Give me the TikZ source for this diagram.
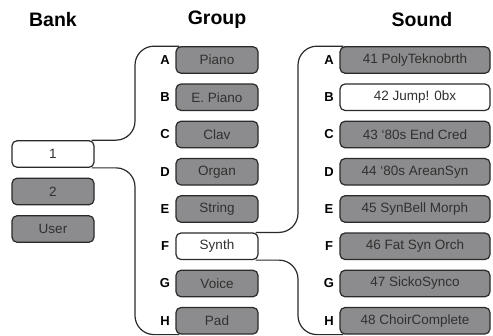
\documentclass[tikz,border=0pt]{standalone}
\usepackage{fontspec}
\setmainfont{Liberation Sans}
\definecolor{boxgray}{HTML}{8C8C8E}
\definecolor{edge}{HTML}{2A2A2A}
\definecolor{txt}{HTML}{303030}
\begin{document}
\begin{tikzpicture}[x=1pt,y=-1pt,
  base/.style={draw=edge,line width=1.2pt,rounded corners=5pt,minimum height=26.5pt,inner sep=0pt,
    font=\fontsize{13.5}{14}\selectfont,text=txt},
  gbox/.style={base,fill=boxgray},
  wbox/.style={base,fill=white},
  bankw/.style={minimum width=82pt},
  grpw/.style={minimum width=82pt},
  sndw/.style={minimum width=150pt},
  lett/.style={font=\bfseries\fontsize{13}{14}\selectfont,text=black},
  title/.style={font=\bfseries\fontsize{19.5}{21}\selectfont,text=black},
  conn/.style={draw=edge,line width=1.2pt,rounded corners=19pt}]
\useasboundingbox (0,0) rectangle (493,335);
\node[title] (tb) at (53,20) {Bank};
\node[title] (tg) at (217,20) {Group};
\node[title] (ts) at (422,20) {Sound};
% bank
\node[wbox,bankw] (b1) at (53,154) {1};
\node[gbox,bankw] (b2) at (53,191.5) {2};
\node[gbox,bankw] (bu) at (53,229) {User};
% groups
\foreach \l/\t/\s [count=\i from 0] in {A/Piano/gbox,B/E. Piano/gbox,C/Clav/gbox,D/Organ/gbox,E/String/gbox,F/Synth/wbox,G/Voice/gbox,H/Pad/gbox}{
  \node[\s,grpw] (g\l) at (217,60+37.25*\i) {\t};
  \node[lett] (gl\l) at (165,60+37.25*\i) {\l};
}
\foreach \l/\t/\s [count=\i from 0] in {A/41 PolyTeknobrth/gbox,B/42 Jump! 0bx/wbox,C/43 ‘80s End Cred/gbox,D/44 ‘80s AreanSyn/gbox,E/45 SynBell Morph/gbox,F/46 Fat Syn Orch/gbox,G/47 SickoSynco/gbox,H/48 ChoirComplete/gbox}{
  \node[\s,sndw] (s\l) at (415,60+37.25*\i) {\t};
  \node[lett] (sl\l) at (329,60+37.25*\i) {\l};
}
% connectors
\coordinate (v1) at (135,0);
\coordinate (v2) at (298,0);
\draw[conn] ([xshift=-3pt]b1.north east) -- (v1 |- b1.north) -- (v1 |- gA.north) -- ([xshift=4pt]gA.north west);
\draw[conn] ([xshift=-3pt]b1.south east) -- (v1 |- b1.south) -- (v1 |- gH.south) -- ([xshift=4pt]gH.south west);
\draw[conn] ([xshift=-3pt]gF.north east) -- (v2 |- gF.north) -- (v2 |- sA.north) -- ([xshift=4pt]sA.north west);
\draw[conn] ([xshift=-3pt]gF.south east) -- (v2 |- gF.south) -- (v2 |- sH.south) -- ([xshift=4pt]sH.south west);
\end{tikzpicture}
\end{document}
